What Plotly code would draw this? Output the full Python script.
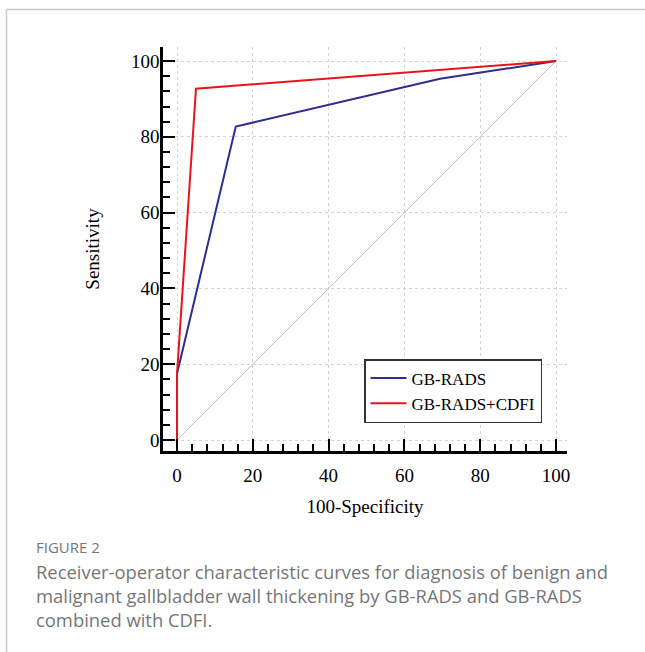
import plotly.graph_objects as go

# Data (100-Specificity, Sensitivity)
gb_rads_x = [0, 0, 15.5, 69.4, 100]
gb_rads_y = [0, 17.5, 82.7, 95.3, 100]
gb_cdfi_x = [0, 0, 5.0, 100]
gb_cdfi_y = [0, 17.5, 92.7, 100]
diag_x = [0, 100]
diag_y = [0, 100]

W, H = 645, 652
L, R, T, B = 163, 78, 47, 201
PW, PH = W - L - R, H - T - B

def px(x):
    return (x - L) / PW

def py(y):
    return (H - B - y) / PH

serif = "Liberation Serif, Times New Roman, serif"
sans = "Open Sans, Lato, sans-serif"

fig = go.Figure()
fig.add_trace(go.Scatter(x=diag_x, y=diag_y, mode="lines", showlegend=False,
                         line=dict(color="#cdbfbf", width=1), hoverinfo="skip"))
fig.add_trace(go.Scatter(x=gb_rads_x, y=gb_rads_y, mode="lines", name="GB-RADS",
                         line=dict(color="#2e2e8c", width=2)))
fig.add_trace(go.Scatter(x=gb_cdfi_x, y=gb_cdfi_y, mode="lines", name="GB-RADS+CDFI",
                         line=dict(color="#e8141c", width=2)))

axis_common = dict(
    showline=True, linecolor="black", linewidth=2.5,
    ticks="inside", ticklen=12, tickwidth=2, tickcolor="black",
    dtick=20, tick0=0,
    minor=dict(ticks="inside", ticklen=7, tickwidth=1.5, tickcolor="black", dtick=4, tick0=0, showgrid=False),
    showgrid=True, gridcolor="#d4d4d4", gridwidth=1, griddash="dot",
    zeroline=False,
    tickfont=dict(family=serif, size=19, color="black"),
    title_font=dict(family=serif, size=19, color="black"),
)

fig.update_xaxes(range=[-3.7, 102.9], title_text="100-Specificity", title_standoff=16,
                 ticklabelstandoff=5, **axis_common)
fig.update_yaxes(range=[-2.9, 103.7], title_text="Sensitivity", title_standoff=27,
                 ticklabelstandoff=-3, **axis_common)

fig.update_layout(
    width=W, height=H,
    margin=dict(l=L, r=R, t=T, b=B, autoexpand=False),
    paper_bgcolor="white", plot_bgcolor="white",
    legend=dict(x=px(364), y=py(359), xanchor="left", yanchor="top",
                bgcolor="white", bordercolor="#333333", borderwidth=1.5,
                font=dict(family=serif, size=17, color="black"),
                tracegroupgap=0, itemwidth=36),
    shapes=[
        dict(type="line", xref="paper", yref="paper", x0=px(6.5), x1=px(645), y0=py(9.5), y1=py(9.5),
             line=dict(color="#c8c8c8", width=1.5)),
        dict(type="line", xref="paper", yref="paper", x0=px(6.5), x1=px(6.5), y0=py(9.5), y1=py(652),
             line=dict(color="#c8c8c8", width=1.5)),
    ],
    annotations=[
        dict(text="FIGURE 2", xref="paper", yref="paper", x=px(34), y=py(547), xanchor="left", yanchor="middle",
             showarrow=False, font=dict(family=sans, size=15, color="#767676")),
        dict(text="Receiver-operator characteristic curves for diagnosis of benign and<br>"
                  "malignant gallbladder wall thickening by GB-RADS and GB-RADS<br>"
                  "combined with CDFI.",
             xref="paper", yref="paper", x=px(34), y=py(557), xanchor="left", yanchor="top", align="left",
             showarrow=False, font=dict(family=sans, size=18.4, color="#767676")),
    ],
)

fig.write_html("out.html", config={"displayModeBar": False},
               post_script="document.body.style.margin='0';")
